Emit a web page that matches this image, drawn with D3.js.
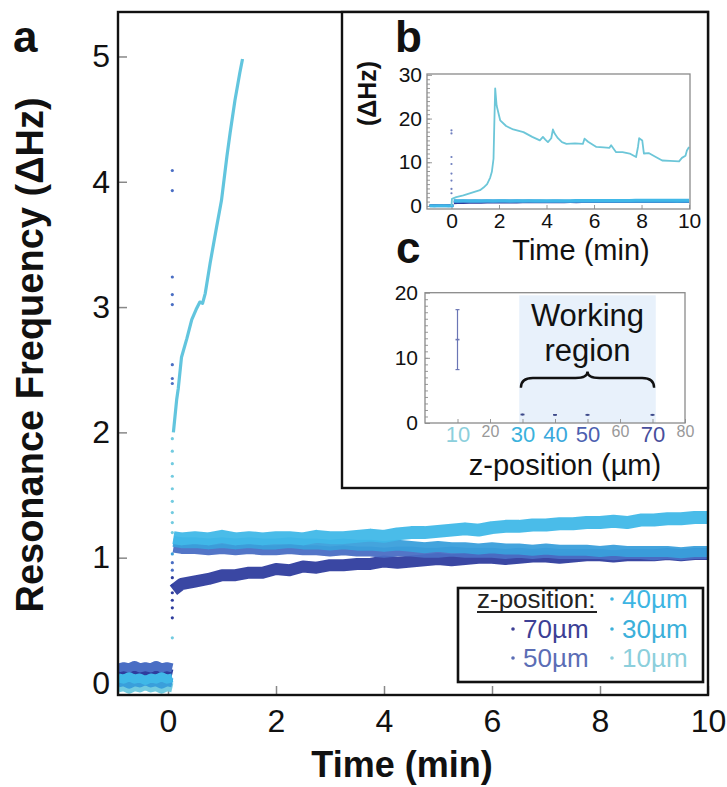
<!DOCTYPE html>
<html><head><meta charset="utf-8">
<script src="https://cdn.jsdelivr.net/npm/d3@7"></script>
<style>
body{margin:0;background:#fff}
svg text{font-family:"Liberation Sans",Arial,Helvetica,sans-serif}
</style>
</head><body>
<svg id="chart" width="727" height="787"></svg>
<script>
// ================= DATA =================
// Main panel (a)
const mainXTicks = [0, 2, 4, 6, 8, 10];
const mainYTicks = [0, 1, 2, 3, 4, 5];
const seriesNames = ["40µm", "70µm", "30µm", "50µm", "10µm"];

// before injection (t < 0)
const tPre  = [-0.92, -0.82, -0.72, -0.62, -0.52, -0.42, -0.32, -0.22, -0.12, -0.02, 0.08];
const pre50 = [0.12, 0.13, 0.12, 0.14, 0.12, 0.13, 0.12, 0.14, 0.12, 0.13, 0.12];
const pre70 = [0.07, 0.08, 0.06, 0.08, 0.07, 0.09, 0.07, 0.08, 0.06, 0.08, 0.07];
const pre40 = [0.04, 0.03, 0.05, 0.03, 0.04, 0.02, 0.04, 0.03, 0.05, 0.03, 0.04];
const pre30 = [0.00, 0.01, -0.01, 0.01, 0.00, 0.02, 0.00, 0.01, -0.01, 0.01, 0.00];
const pre10 = [-0.04, -0.03, -0.05, -0.03, -0.04, -0.02, -0.04, -0.03, -0.05, -0.03, -0.04];

// after injection (t > 0)
const tPost = [0.1, 0.25, 0.5, 0.75, 1, 1.25, 1.5, 1.75, 2, 2.25, 2.5, 2.75, 3, 3.25, 3.5, 3.75, 4, 4.25, 4.5, 4.75,
               5, 5.25, 5.5, 5.75, 6, 6.25, 6.5, 6.75, 7, 7.25, 7.5, 7.75, 8, 8.25, 8.5, 8.75, 9, 9.25, 9.5, 9.75, 10];
const post40 = [1.16, 1.15, 1.16, 1.15, 1.17, 1.15, 1.16, 1.15, 1.16, 1.16, 1.15, 1.17, 1.16, 1.16, 1.17, 1.18, 1.17, 1.19, 1.20, 1.20,
                1.21, 1.22, 1.23, 1.22, 1.24, 1.25, 1.25, 1.26, 1.26, 1.27, 1.27, 1.28, 1.28, 1.29, 1.28, 1.30, 1.30, 1.31, 1.31, 1.32, 1.32];
const post30 = [1.13, 1.12, 1.12, 1.11, 1.12, 1.11, 1.12, 1.11, 1.11, 1.12, 1.11, 1.11, 1.10, 1.11, 1.10, 1.10, 1.09, 1.10, 1.09, 1.08,
                1.09, 1.08, 1.08, 1.07, 1.08, 1.07, 1.07, 1.06, 1.07, 1.06, 1.06, 1.06, 1.05, 1.06, 1.05, 1.05, 1.05, 1.05, 1.04, 1.05, 1.05];
const post50 = [1.08, 1.07, 1.07, 1.06, 1.07, 1.06, 1.07, 1.06, 1.06, 1.07, 1.06, 1.06, 1.05, 1.06, 1.05, 1.05, 1.04, 1.05, 1.05, 1.04,
                1.04, 1.05, 1.04, 1.04, 1.04, 1.03, 1.04, 1.03, 1.04, 1.03, 1.03, 1.03, 1.03, 1.02, 1.03, 1.03, 1.02, 1.03, 1.02, 1.03, 1.03];
const post70 = [0.74, 0.79, 0.81, 0.83, 0.86, 0.86, 0.88, 0.88, 0.91, 0.90, 0.93, 0.92, 0.94, 0.94, 0.95, 0.95, 0.97, 0.96, 0.97, 0.98,
                0.99, 0.98, 0.99, 1.00, 1.00, 0.99, 1.00, 1.01, 1.01, 1.00, 1.01, 1.02, 1.02, 1.01, 1.02, 1.02, 1.02, 1.03, 1.02, 1.03, 1.03];

// 10 µm: fast rise in main panel
const rise10T = [0.1, 0.16, 0.19, 0.25, 0.35, 0.44, 0.52, 0.59, 0.64, 0.69, 0.78, 0.9, 0.99, 1.09, 1.15, 1.24, 1.33, 1.38];
const rise10V = [2.0, 2.26, 2.35, 2.6, 2.75, 2.9, 2.98, 3.04, 3.03, 3.11, 3.35, 3.64, 3.85, 4.2, 4.39, 4.65, 4.87, 4.98];

// scattered points during the injection step (t ≈ 0.08)
const transT = 0.08;
const transV = [0.36, 0.52, 0.6, 0.66, 0.72, 0.78, 0.84, 0.9, 0.96, 1.03, 1.2, 1.28, 1.36, 1.45, 1.55, 1.65, 1.75, 1.85, 1.95,
                2.39, 2.43, 2.54, 3.02, 3.1, 3.24, 3.93, 4.09];
const transS = ["10µm", "70µm", "70µm", "70µm", "70µm", "50µm", "70µm", "50µm", "50µm", "30µm",
                "10µm", "10µm", "10µm", "10µm", "10µm", "10µm", "10µm", "10µm", "10µm",
                "50µm", "50µm", "50µm", "50µm", "50µm", "50µm", "50µm", "50µm"];

// Inset b
const bXTicks = [0, 2, 4, 6, 8, 10];
const bYTicks = [0, 10, 20, 30];
const b10T = [0, 0.02, 0.2, 0.5, 0.9, 1.2, 1.35, 1.5, 1.63, 1.7, 1.77, 1.8, 1.84, 1.9, 2.05, 2.3, 2.6, 3.03, 3.4, 3.72, 3.85, 3.95,
              4.06, 4.2, 4.27, 4.35, 4.48, 4.65, 4.84, 5.2, 5.53, 5.6, 5.75, 6.1, 6.4, 6.65, 6.72, 6.93, 7.2, 7.5, 7.77, 7.85,
              7.9, 8.03, 8.1, 8.3, 8.6, 8.87, 9.2, 9.58, 9.7, 9.85, 9.91, 10];
const b10V = [0, 1.6, 2.0, 2.4, 3.1, 3.6, 4.2, 5.0, 6.5, 7.8, 10.8, 18, 26.9, 23, 19.6, 18.3, 17.5, 16.9, 15.8, 15, 15.8, 15.2,
              14.6, 15.5, 17.5, 16.5, 15.5, 14.6, 14.2, 14.3, 14.2, 15.4, 14.7, 13.5, 13.4, 13.3, 13.9, 12.3, 12.3, 12, 11.2, 13.5,
              15.5, 15, 12, 12.1, 11.2, 10.4, 10.3, 10.2, 11, 11.5, 12.7, 13.5];
const bTransV = [17.3, 16.6, 11.2, 9.6, 7.4, 5.8, 3.9, 2.9];

// Inset c
const cXTicks = [10, 20, 30, 40, 50, 60, 70, 80];
const cYTicks = [0, 10, 20];
const cZ    = [10, 30, 40, 50, 70];
const cMean = [12.8, 1.3, 1.25, 1.25, 1.25];
const cLo   = [8.2, 1.15, 1.1, 1.1, 1.1];
const cHi   = [17.4, 1.45, 1.4, 1.4, 1.4];
const workingRegion = [29, 71];
const workingTop = 19.6;

// ================= STYLE =================
const plotColor = {"40µm": "#40b8e8", "30µm": "#3a9fdb", "50µm": "#4a6ec4", "70µm": "#2f3d9e", "10µm": "#72cbe0"};
const textColor = {"40µm": "#3db5e3", "70µm": "#3d3f95", "30µm": "#3cb0da", "50µm": "#5b6db5", "10µm": "#8ccfdc"};
const bandWidth = {"40µm": 13, "30µm": 11, "50µm": 10, "70µm": 12, "10µm": 8};
const fmt = d3.format("d");

const svg = d3.select("#chart");
const pair = (ts, vs) => ts.map((t, i) => [t, vs[i]]);

// ================= MAIN PANEL =================
const x = d3.scaleLinear().domain([-0.926, 10]).range([118, 708]);
const y = d3.scaleLinear().domain([-0.096, 5.355]).range([695, 12]);
const mLine = d3.line().x(d => x(d[0])).y(d => y(d[1]));

// axes (drawn under data)
const gx = svg.append("g").attr("transform", "translate(0,695)")
  .call(d3.axisBottom(x).tickValues(mainXTicks).tickFormat(fmt).tickSize(-9).tickPadding(14));
const gy = svg.append("g").attr("transform", "translate(118,0)")
  .call(d3.axisLeft(y).tickValues(mainYTicks).tickFormat(fmt).tickSize(-9).tickPadding(8));
[gx, gy].forEach(g => {
  g.select(".domain").remove();
  g.selectAll(".tick line").attr("stroke", "#888").attr("stroke-width", 1.5);
  g.selectAll(".tick text").attr("font-size", 32).attr("fill", "#111")
    .style("font-family", '"Liberation Sans",Arial,sans-serif');
});

svg.append("clipPath").attr("id", "clipMain").append("rect")
  .attr("x", 118).attr("y", 12).attr("width", 590).attr("height", 683);
const gM = svg.append("g").attr("clip-path", "url(#clipMain)");

const preSeries = [["70µm", pre70], ["50µm", pre50], ["10µm", pre10], ["30µm", pre30], ["40µm", pre40]];
preSeries.forEach(([n, v]) => {
  gM.append("path").attr("d", mLine(pair(tPre, v))).attr("fill", "none")
    .attr("stroke", plotColor[n]).attr("stroke-width", 9).attr("stroke-linejoin", "round");
});

gM.selectAll("circle.tr").data(transV.map((v, i) => ({v, s: transS[i]}))).join("circle")
  .attr("class", "tr").attr("cx", x(transT)).attr("cy", d => y(d.v)).attr("r", 1.6)
  .attr("fill", d => plotColor[d.s]);

const postSeries = [["70µm", post70], ["50µm", post50], ["30µm", post30], ["40µm", post40]];
postSeries.forEach(([n, v]) => {
  gM.append("path").attr("d", mLine(pair(tPost, v))).attr("fill", "none")
    .attr("stroke", plotColor[n]).attr("stroke-width", bandWidth[n])
    .attr("stroke-linejoin", "round").attr("stroke-opacity", 0.95);
});

gM.append("path").attr("d", mLine(pair(rise10T, rise10V))).attr("fill", "none")
  .attr("stroke", "#62c5de").attr("stroke-width", 3.2).attr("stroke-linejoin", "round");

// frame
svg.append("rect").attr("x", 118).attr("y", 12).attr("width", 590).attr("height", 683)
  .attr("fill", "none").attr("stroke", "#111").attr("stroke-width", 2.4);

// titles
svg.append("text").attr("x", 402).attr("y", 777).attr("text-anchor", "middle")
  .attr("font-size", 36).attr("font-weight", "bold").attr("fill", "#111").text("Time (min)");
svg.append("text").attr("transform", "translate(43,355) rotate(-90)").attr("text-anchor", "middle")
  .attr("font-size", 38).attr("font-weight", "bold").attr("fill", "#111").text("Resonance Frequency (ΔHz)");
svg.append("text").attr("x", 13).attr("y", 52).attr("font-size", 44).attr("font-weight", "bold")
  .attr("fill", "#111").text("a");

// legend
const leg = svg.append("g");
leg.append("rect").attr("x", 458).attr("y", 588).attr("width", 245).attr("height", 94)
  .attr("fill", "#fff").attr("stroke", "#111").attr("stroke-width", 2.6);
leg.append("text").attr("x", 477).attr("y", 608).attr("font-size", 26).attr("fill", "#222").text("z-position:");
leg.append("line").attr("x1", 477).attr("x2", 597).attr("y1", 612).attr("y2", 612)
  .attr("stroke", "#222").attr("stroke-width", 2);
const legSlots = {"40µm": [612, 608], "70µm": [513, 638], "30µm": [612, 638], "50µm": [513, 667], "10µm": [612, 667]};
seriesNames.forEach(n => {
  const [lx, ly] = legSlots[n];
  leg.append("circle").attr("cx", lx).attr("cy", ly - 9).attr("r", 1.8).attr("fill", textColor[n]);
  leg.append("text").attr("x", lx + 10).attr("y", ly).attr("font-size", 26).attr("fill", textColor[n]).text(n);
});

// ================= INSET BOX =================
svg.append("rect").attr("x", 342).attr("y", 12).attr("width", 366).attr("height", 476)
  .attr("fill", "#fff").attr("stroke", "#111").attr("stroke-width", 2.4);

// ================= INSET b =================
const bx = d3.scaleLinear().domain([-1.03, 10.04]).range([427, 690]);
const by = d3.scaleLinear().domain([-0.7, 30.2]).range([209, 74]);
const bLine = d3.line().x(d => bx(d[0])).y(d => by(d[1]));

const bgx = svg.append("g").attr("transform", "translate(0,209)")
  .call(d3.axisBottom(bx).tickValues(bXTicks).tickFormat(fmt).tickSize(-4).tickPadding(4));
const bgy = svg.append("g").attr("transform", "translate(427,0)")
  .call(d3.axisLeft(by).tickValues(bYTicks).tickFormat(fmt).tickSize(-5).tickPadding(5));
const bgyMinor = svg.append("g").attr("transform", "translate(427,0)")
  .call(d3.axisLeft(by).tickValues(d3.range(1, 30)).tickSize(-3).tickFormat(""));
[bgx, bgy, bgyMinor].forEach(g => {
  g.select(".domain").remove();
  g.selectAll(".tick line").attr("stroke", "#999").attr("stroke-width", 1);
});
bgx.selectAll(".tick text").attr("font-size", 21).attr("fill", "#111");
bgy.selectAll(".tick text").attr("font-size", 21).attr("fill", "#111");

svg.append("clipPath").attr("id", "clipB").append("rect")
  .attr("x", 427).attr("y", 74).attr("width", 263).attr("height", 135);
const gB = svg.append("g").attr("clip-path", "url(#clipB)");
preSeries.forEach(([n, v]) => {
  gB.append("path").attr("d", bLine(pair(tPre, v))).attr("fill", "none")
    .attr("stroke", plotColor[n]).attr("stroke-width", 2.5);
});
postSeries.forEach(([n, v]) => {
  gB.append("path").attr("d", bLine(pair(tPost, v))).attr("fill", "none")
    .attr("stroke", plotColor[n]).attr("stroke-width", 3);
});
gB.selectAll("circle").data(bTransV).join("circle")
  .attr("cx", bx(0)).attr("cy", d => by(d)).attr("r", 1.1).attr("fill", "#6f7fbf");
gB.append("path").attr("d", bLine(pair(b10T, b10V))).attr("fill", "none")
  .attr("stroke", "#6cc6d8").attr("stroke-width", 1.8).attr("stroke-linejoin", "round");

svg.append("rect").attr("x", 427).attr("y", 74).attr("width", 263).attr("height", 135)
  .attr("fill", "none").attr("stroke", "#8a8a8a").attr("stroke-width", 1.3);

svg.append("text").attr("x", 395).attr("y", 52).attr("font-size", 44).attr("font-weight", "bold")
  .attr("fill", "#111").text("b");
svg.append("text").attr("x", 581).attr("y", 260).attr("text-anchor", "middle")
  .attr("font-size", 29).attr("fill", "#111").text("Time (min)");
svg.append("text").attr("transform", "translate(376,126) rotate(-90)")
  .attr("font-size", 25).attr("font-weight", "bold").attr("fill", "#111").text("(ΔHz)");

// ================= INSET c =================
const cx = d3.scaleLinear().domain([0, 80]).range([425, 685]);
const cy = d3.scaleLinear().domain([0, 20]).range([423, 292.7]);

svg.append("rect").attr("x", cx(workingRegion[0])).attr("y", cy(workingTop))
  .attr("width", cx(workingRegion[1]) - cx(workingRegion[0])).attr("height", cy(0) - cy(workingTop))
  .attr("fill", "#e8f1fb");

const cgx = svg.append("g").attr("transform", "translate(0,423)")
  .call(d3.axisBottom(cx).tickValues(cXTicks).tickFormat(fmt).tickSize(-4).tickPadding(3));
const cgy = svg.append("g").attr("transform", "translate(425,0)")
  .call(d3.axisLeft(cy).tickValues(cYTicks).tickFormat(fmt).tickSize(-5).tickPadding(7));
const cgyMinor = svg.append("g").attr("transform", "translate(425,0)")
  .call(d3.axisLeft(cy).tickValues(d3.range(1, 20)).tickSize(-3).tickFormat(""));
[cgx, cgy, cgyMinor].forEach(g => {
  g.select(".domain").remove();
  g.selectAll(".tick line").attr("stroke", "#999").attr("stroke-width", 1);
});
cgy.selectAll(".tick text").attr("font-size", 21).attr("fill", "#111");
const cTickColor = {10: "#8ccfdc", 30: "#3ab2dc", 40: "#3aa8dc", 50: "#4c5fb0", 70: "#484e9c"};
cgx.selectAll(".tick text")
  .attr("font-size", d => cTickColor[d] ? 22 : 16)
  .attr("fill", d => cTickColor[d] || "#999");

svg.append("rect").attr("x", 425).attr("y", 292.7).attr("width", 260).attr("height", 130.3)
  .attr("fill", "none").attr("stroke", "#8a8a8a").attr("stroke-width", 1.3);

// error bars / points
const cData = cZ.map((z, i) => ({z, m: cMean[i], lo: cLo[i], hi: cHi[i]}));
const gC = svg.append("g");
gC.selectAll("line.eb").data(cData).join("line").attr("class", "eb")
  .attr("x1", d => cx(d.z)).attr("x2", d => cx(d.z)).attr("y1", d => cy(d.lo)).attr("y2", d => cy(d.hi))
  .attr("stroke", d => d.z === 10 ? "#6b76b5" : "#3d4a8a").attr("stroke-width", d => d.z === 10 ? 1.2 : 1.8);
gC.selectAll("line.capHi").data(cData.filter(d => d.z === 10)).join("line").attr("class", "capHi")
  .attr("x1", d => cx(d.z) - 2).attr("x2", d => cx(d.z) + 2).attr("y1", d => cy(d.hi)).attr("y2", d => cy(d.hi))
  .attr("stroke", "#6b76b5").attr("stroke-width", 1.2);
gC.selectAll("line.capLo").data(cData.filter(d => d.z === 10)).join("line").attr("class", "capLo")
  .attr("x1", d => cx(d.z) - 2).attr("x2", d => cx(d.z) + 2).attr("y1", d => cy(d.lo)).attr("y2", d => cy(d.lo))
  .attr("stroke", "#6b76b5").attr("stroke-width", 1.2);
gC.selectAll("line.mean").data(cData).join("line").attr("class", "mean")
  .attr("x1", d => cx(d.z) - 2).attr("x2", d => cx(d.z) + 2).attr("y1", d => cy(d.m)).attr("y2", d => cy(d.m))
  .attr("stroke", d => d.z === 10 ? "#6b76b5" : "#3d4a8a").attr("stroke-width", 1.6);

// brace
const bxL = cx(workingRegion[0] + 0.5), bxR = cx(workingRegion[1] - 0.5), bxM = (bxL + bxR) / 2;
const yTip = cy(5.4), yMid = cy(6.9), yCusp = cy(7.9);
const brace = `M${bxL},${yTip} Q${bxL},${yMid} ${bxL + 12},${yMid} L${bxM - 12},${yMid} Q${bxM},${yMid} ${bxM},${yCusp}
  Q${bxM},${yMid} ${bxM + 12},${yMid} L${bxR - 12},${yMid} Q${bxR},${yMid} ${bxR},${yTip}`;
svg.append("path").attr("d", brace).attr("fill", "none").attr("stroke", "#111").attr("stroke-width", 2.4);

svg.append("text").attr("x", cx(50)).attr("y", 326).attr("text-anchor", "middle")
  .attr("font-size", 31).attr("fill", "#111").text("Working");
svg.append("text").attr("x", cx(50)).attr("y", 361).attr("text-anchor", "middle")
  .attr("font-size", 31).attr("fill", "#111").text("region");

svg.append("text").attr("x", 396).attr("y", 263).attr("font-size", 44).attr("font-weight", "bold")
  .attr("fill", "#111").text("c");
svg.append("text").attr("x", 565).attr("y", 475).attr("text-anchor", "middle")
  .attr("font-size", 29).attr("fill", "#111").text("z-position (µm)");

svg.append("clipPath").attr("id", "clipRes").append("rect")
  .attr("x", 340).attr("y", 388).attr("width", 60).attr("height", 60);
svg.append("text").attr("transform", "translate(373,425) rotate(-90)").attr("clip-path", "url(#clipRes)")
  .attr("font-size", 25).attr("font-weight", "bold").attr("fill", "#111").text("Res");
</script>
</body></html>
